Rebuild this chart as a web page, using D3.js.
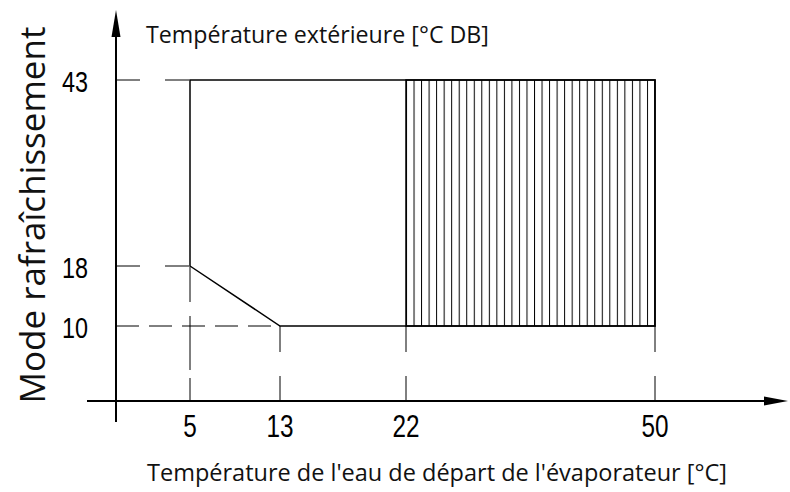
<!DOCTYPE html>
<html><head><meta charset="utf-8">
<script src="https://cdn.jsdelivr.net/npm/d3@7/dist/d3.min.js"></script>
<style>html,body{margin:0;padding:0;background:#fff;}svg{display:block;}</style>
</head><body>
<svg id="c" width="790" height="492"></svg>
<script>
// ---- data ----
const xTicks = [5, 13, 22, 50];
const yTicks = [10, 18, 43];
const envelope = [[5, 18], [5, 43], [50, 43], [50, 10], [13, 10], [5, 18]];
const hatchX = [22, 50];
const hatchY = [10, 43];
// dashed guides: [value, other-axis end]
const hGuides = [[43, 5], [18, 5], [10, 13]];
const vGuides = [[5, 18], [13, 10], [22, 10], [50, 10]];
const topTitle = "Température extérieure [°C DB]";
const xTitle = "Température de l'eau de départ de l'évaporateur [°C]";
const yTitle = "Mode rafraîchissement";

// ---- layout ----
const svg = d3.select("#c");
const axisX0 = 116, axisY0 = 401;
const x = d3.scaleLinear().domain(xTicks).range([190, 280, 406, 655]);
const y = d3.scaleLinear().domain(yTicks).range([326, 266, 80]);

// hatch pattern
const defs = svg.append("defs");
const pat = defs.append("pattern").attr("id", "hatch")
  .attr("patternUnits", "userSpaceOnUse")
  .attr("x", x(hatchX[0])).attr("y", 0)
  .attr("width", 7.53).attr("height", 10);
pat.append("line").attr("x1", 0.5).attr("x2", 0.5).attr("y1", 0).attr("y2", 10)
  .attr("stroke", "#000").attr("stroke-width", 1);

// hatched rectangle
svg.append("rect")
  .attr("x", x(hatchX[0])).attr("y", y(hatchY[1]))
  .attr("width", x(hatchX[1]) - x(hatchX[0]))
  .attr("height", y(hatchY[0]) - y(hatchY[1]))
  .attr("fill", "url(#hatch)").attr("stroke", "#000").attr("stroke-width", 1.5);

// envelope
svg.append("path")
  .attr("d", d3.line().x(d => x(d[0])).y(d => y(d[1]))(envelope))
  .attr("fill", "none").attr("stroke", "#000").attr("stroke-width", 1.5)
  .attr("stroke-linejoin", "miter");

// dashed guides
svg.selectAll(".hg").data(hGuides).join("line")
  .attr("x1", axisX0).attr("x2", d => x(d[1]))
  .attr("y1", d => y(d[0])).attr("y2", d => y(d[0]))
  .attr("stroke", "#000").attr("stroke-width", 1)
  .attr("stroke-dasharray", d => d[1] === 5 ? "24,25" : "23,10");
svg.selectAll(".vg").data(vGuides).join("line")
  .attr("x1", d => x(d[0])).attr("x2", d => x(d[0]))
  .attr("y1", d => y(d[1])).attr("y2", axisY0)
  .attr("stroke", "#000").attr("stroke-width", 1)
  .attr("stroke-dasharray", d => d[0] === 5 ? "36,14,54,8" : "26,24");

// axes
svg.append("line").attr("x1", 87).attr("x2", 768).attr("y1", axisY0).attr("y2", axisY0)
  .attr("stroke", "#000").attr("stroke-width", 2);
svg.append("line").attr("x1", axisX0).attr("x2", axisX0).attr("y1", 32).attr("y2", 422)
  .attr("stroke", "#000").attr("stroke-width", 2);
svg.append("path").attr("d", `M${axisX0},10 L${axisX0 + 4.5},37 L${axisX0 - 4.5},37 Z`).attr("fill", "#000");
svg.append("path").attr("d", `M788,${axisY0} L764,${axisY0 - 4.5} L764,${axisY0 + 4.5} Z`).attr("fill", "#000");

// tick labels
const tickFont = "'Liberation Sans Narrow','Liberation Sans',sans-serif";
svg.selectAll(".xl").data(xTicks).join("text")
  .attr("transform", d => `translate(${x(d)},437) scale(0.76,1)`)
  .attr("text-anchor", "middle").attr("font-family", tickFont)
  .attr("font-size", 32).attr("fill", "#000").text(d => d);
svg.selectAll(".yl").data(yTicks).join("text")
  .attr("transform", d => `translate(88,${y(d) + 12}) scale(0.78,1)`)
  .attr("text-anchor", "end").attr("font-family", tickFont)
  .attr("font-size", 30).attr("fill", "#000").text(d => d);

// titles
const titleFont = "'Open Sans',sans-serif";
svg.append("text").attr("x", 146).attr("y", 43)
  .attr("font-family", titleFont).attr("font-size", 23.2).attr("fill", "#111").text(topTitle);
svg.append("text").attr("x", 147).attr("y", 481)
  .attr("font-family", titleFont).attr("font-size", 23.5).attr("fill", "#111").text(xTitle);
svg.append("text").attr("transform", "translate(45,215) rotate(-90)")
  .attr("text-anchor", "middle")
  .attr("font-family", titleFont).attr("font-size", 35).attr("fill", "#111").text(yTitle);
</script>
</body></html>
